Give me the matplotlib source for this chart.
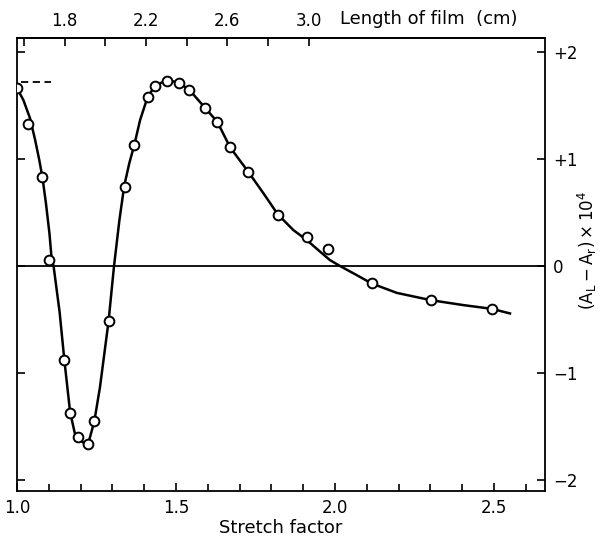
import matplotlib.pyplot as plt
import numpy as np
from matplotlib.ticker import MultipleLocator, FixedLocator

# measured points: stretch factor vs (A_L - A_r) x 10^4
stretch = [1.000, 1.036, 1.080, 1.102, 1.149, 1.167, 1.193, 1.222, 1.243, 1.288,
           1.338, 1.369, 1.411, 1.433, 1.471, 1.509, 1.542, 1.592, 1.630, 1.670,
           1.727, 1.820, 1.912, 1.978, 2.115, 2.301, 2.493]
dA = [1.66, 1.33, 0.83, 0.06, -0.88, -1.37, -1.60, -1.66, -1.45, -0.51,
      0.74, 1.13, 1.58, 1.68, 1.73, 1.71, 1.64, 1.48, 1.35, 1.11,
      0.88, 0.48, 0.27, 0.16, -0.16, -0.32, -0.40]

# hand drawn curve
curve_x = [1.000, 1.020, 1.041, 1.057, 1.070, 1.080, 1.091, 1.102, 1.109, 1.115,
           1.134, 1.149, 1.167, 1.182, 1.198, 1.214, 1.224, 1.243, 1.261, 1.288,
           1.305, 1.322, 1.337, 1.353, 1.369, 1.387, 1.411, 1.434, 1.471, 1.509,
           1.542, 1.591, 1.630, 1.670, 1.727, 1.775, 1.820, 1.869, 1.911, 1.947,
           1.984, 2.016, 2.068, 2.115, 2.194, 2.301, 2.403, 2.493, 2.550]
curve_y = [1.661, 1.551, 1.380, 1.178, 0.991, 0.829, 0.586, 0.306, 0.065, 0.0,
           -0.43, -0.881, -1.364, -1.564, -1.626, -1.659, -1.657, -1.451, -1.128, -0.511,
           0.0, 0.430, 0.748, 0.960, 1.134, 1.364, 1.582, 1.682, 1.738, 1.713,
           1.645, 1.479, 1.346, 1.109, 0.881, 0.679, 0.483, 0.336, 0.243, 0.150,
           0.056, 0.0, -0.084, -0.162, -0.250, -0.318, -0.364, -0.399, -0.442]

# dashed reference level at top left
dash_x = [1.013, 1.107]
dash_y = [1.72, 1.72]

film_ticks = [1.6, 1.8, 2.0, 2.2, 2.4, 2.6, 2.8, 3.0]
film_labels = ['', '1.8', '', '2.2', '', '2.6', '', '3.0']
L0 = 1.565  # cm, unstretched length

fig = plt.figure(figsize=(6.05, 5.43), dpi=100)
ax = fig.add_axes([17/605, 1 - 491/543, 528/605, 453/543])

ax.plot(curve_x, curve_y, color='black', lw=1.8, zorder=2)
ax.plot(stretch, dA, 'o', ms=7, mfc='white', mec='black', mew=1.4, zorder=3)
ax.plot(dash_x, dash_y, color='black', lw=1.3, dashes=(4, 2.5))
ax.axhline(0, color='black', lw=1.3, zorder=1)

ax.set_xlim(1.0, 2.66)
ax.set_ylim(-2.10, 2.13)

for s in ax.spines.values():
    s.set_linewidth(1.3)

ax.xaxis.set_major_locator(FixedLocator([1.0, 1.5, 2.0, 2.5]))
ax.xaxis.set_minor_locator(MultipleLocator(0.1))
ax.set_xticklabels(['1.0', '1.5', '2.0', '2.5'])
ax.tick_params(axis='x', which='major', direction='in', length=6, width=1.2,
               labelsize=12, pad=6)
ax.tick_params(axis='x', which='minor', direction='in', length=5, width=1.2)
ax.set_xlabel('Stretch factor', fontsize=13, labelpad=1)

ax.yaxis.set_major_locator(FixedLocator([-2, -1, 0, 1, 2]))
ax.yaxis.tick_right()
ax.set_yticklabels(['\u22122', '\u22121', '0', '+1', '+2'])
ax.tick_params(axis='y', which='both', direction='in', length=6, width=1.2,
               labelsize=12, left=True, right=True, pad=6)
ax.text(1.08, 0.53, r'$(\mathrm{A_L} - \mathrm{A_r})\times10^4$', transform=ax.transAxes,
        rotation=90, ha='center', va='center', fontsize=12)

top = ax.secondary_xaxis('top', functions=(lambda s: s * L0, lambda l: l / L0))
top.xaxis.set_major_locator(FixedLocator(film_ticks))
top.set_xticklabels(film_labels)
top.tick_params(axis='x', direction='in', length=6, width=1.2, labelsize=12, pad=6)
top.spines['top'].set_linewidth(1.3)
fig.text(340/605, 1 - 19/543, 'Length of film  (cm)', fontsize=13, ha='left', va='center')

fig.savefig('out.png', dpi=100)
